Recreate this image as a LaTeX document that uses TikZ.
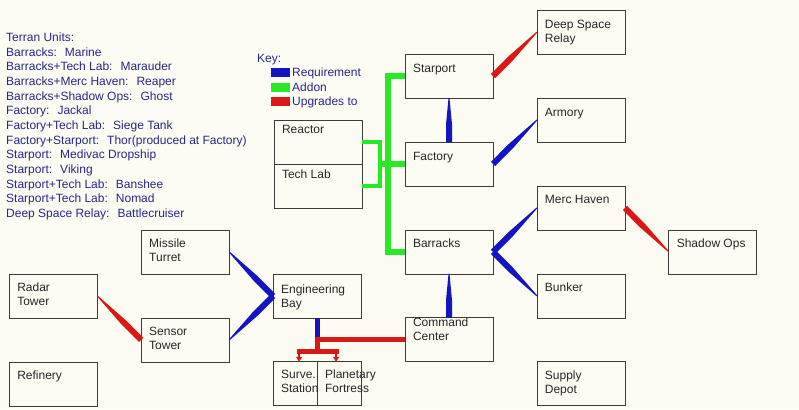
\documentclass[tikz,border=0pt]{standalone}
\usepackage{fontspec}
\setmainfont{Liberation Sans}
\usetikzlibrary{positioning, calc, arrows.meta}

\definecolor{paper}{RGB}{253,252,243}
\definecolor{boxline}{RGB}{60,60,60}
\definecolor{navy}{RGB}{38,38,140}
\definecolor{reqblue}{RGB}{20,20,195}
\definecolor{addgreen}{RGB}{40,232,40}
\definecolor{upgred}{RGB}{218,24,24}

% tapered link: thick at #2, thin at #3
\newcommand{\wedgelink}[3]{%
  \fill[#1] ($(#2)!3pt!90:(#3)$) -- ($(#2)!.4!(#3)!3pt!90:(#3)$)
    -- ($(#3)!.5pt!-90:(#2)$) -- ($(#3)!.5pt!90:(#2)$)
    -- ($(#2)!.4!(#3)!3pt!-90:(#3)$) -- ($(#2)!3pt!-90:(#3)$) -- cycle;}
\newcommand{\unitsep}{:\hspace{8pt}}

\tikzset{boxw/.initial=88pt, firstline/.initial=18pt}

\begin{document}
\begin{tikzpicture}[
        x=1pt, y=-1pt,
        node distance=43.9pt and 43.9pt,
        bld/.style={rectangle, draw=boxline, line width=0.8pt, fill=paper, minimum width=88pt, minimum height=44pt, inner sep=0pt, outer sep=0pt, text=black!85, font=\fontsize{12}{14}\selectfont,
            execute at begin node={\begin{minipage}[c][44pt][t]{\pgfkeysvalueof{/tikz/boxw}}\raggedright\leftskip=8pt\relax\rule{0pt}{\pgfkeysvalueof{/tikz/firstline}}},
            execute at end node={\end{minipage}}},
        half/.style={bld, boxw=44pt, minimum width=44pt},
        notes/.style={anchor=north west, inner sep=0pt, align=left, text=navy, font=\fontsize{12}{14.67}\selectfont},
        keysq/.style={anchor=north west, minimum width=19pt, minimum height=9pt, inner sep=0pt},
        keytxt/.style={anchor=base west, inner sep=0pt, text=navy, font=\fontsize{12}{14}\selectfont},
        addon/.style={draw=addgreen, line width=6pt},
        addonthin/.style={draw=addgreen, line width=4.5pt},
        reqline/.style={draw=reqblue, line width=5pt},
        upgline/.style={draw=upgred, line width=5pt},
        upgtip/.style={draw=upgred, line width=2pt, -{Triangle[width=6pt, length=5pt]}}
    ]
        \fill[paper] (0,0) rectangle (799,409);

        % Unit list
        \node[notes] (units) at (6,32.5) {Terran Units:\\
            Barracks\unitsep Marine\\
            Barracks+Tech Lab\unitsep Marauder\\
            Barracks+Merc Haven\unitsep Reaper\\
            Barracks+Shadow Ops\unitsep Ghost\\
            Factory\unitsep Jackal\\
            Factory+Tech Lab\unitsep Siege Tank\\
            Factory+Starport\unitsep Thor(produced at Factory)\\
            Starport\unitsep Medivac Dropship\\
            Starport\unitsep Viking\\
            Starport+Tech Lab\unitsep Banshee\\
            Starport+Tech Lab\unitsep Nomad\\
            Deep Space Relay\unitsep Battlecruiser};

        % Key
        \node[keytxt] (keylbl) at (257,63) {Key:};
        \node[keysq, fill=reqblue] (keyreq) at (271,68) {};
        \node[keytxt] (keyreqtxt) at (292,77) {Requirement};
        \node[keysq, fill=addgreen] (keyadd) at (271,83) {};
        \node[keytxt] (keyaddtxt) at (292,92) {Addon};
        \node[keysq, fill=upgred] (keyupg) at (271,97) {};
        \node[keytxt] (keyupgtxt) at (292,106) {Upgrades to};

        % Production
        \node[bld, anchor=north west] (factory) at (405,142) {Factory};
        \node[bld, above=of factory] (starport) {Starport};
        \node[bld, below=of factory] (barracks) {Barracks};
        \node[bld, below=of barracks, firstline=9pt] (cc) {Command\\Center};

        % Addons
        \node[bld, anchor=south east, firstline=13pt] (reactor) at ([xshift=-43pt]factory.west) {Reactor};
        \node[bld, anchor=north east, firstline=14pt] (techlab) at ([xshift=-43pt]factory.west) {Tech Lab};

        % Tech buildings
        \node[bld, above right=0pt and 43.9pt of starport] (dsr) {Deep Space\\Relay};
        \node[bld, above right=0pt and 43.9pt of factory] (armory) {Armory};
        \node[bld, above right=0pt and 43.9pt of barracks] (merc) {Merc Haven};
        \node[bld, below right=0pt and 43.9pt of merc] (shadow) {Shadow Ops};
        \node[bld, below right=0pt and 43.9pt of barracks] (bunker) {Bunker};
        \node[bld, below right=0pt and 43.9pt of cc] (depot) {Supply\\Depot};

        % Defence
        \node[bld, below left=0pt and 43.9pt of barracks, firstline=20pt] (engbay) {Engineering\\Bay};
        \node[half, below left=0pt and 43.9pt of cc, firstline=17pt] (fortress) {Planetary\\Fortress};
        \node[half, left=0pt of fortress, firstline=17pt] (surve) {Surve.\\Station};
        \node[bld, above left=0pt and 43.9pt of engbay] (turret) {Missile\\Turret};
        \node[bld, below left=0pt and 43.9pt of engbay] (sensor) {Sensor\\Tower};
        \node[bld, above left=0pt and 43.9pt of sensor] (radar) {Radar\\Tower};
        \node[bld, below left=0pt and 43.9pt of sensor] (refinery) {Refinery};

        % Addon lines
        \coordinate (trunk) at ([xshift=-17pt]factory.west);
        \coordinate (brk) at ([xshift=18pt]reactor.south east);
        \draw[addon] (starport.west) -| (trunk) |- (barracks.west);
        \draw[addon] (brk) -- (factory.west);
        \draw[addonthin] (reactor.east) -| (brk) |- (techlab.east);

        % Requirements
        \wedgelink{reqblue}{factory.north}{starport.south}
        \wedgelink{reqblue}{factory.east}{armory.west}
        \wedgelink{reqblue}{cc.north}{barracks.south}
        \wedgelink{reqblue}{barracks.east}{merc.west}
        \wedgelink{reqblue}{barracks.east}{bunker.west}
        \wedgelink{reqblue}{engbay.west}{turret.east}
        \wedgelink{reqblue}{engbay.west}{sensor.east}

        % Upgrades
        \wedgelink{upgred}{starport.east}{dsr.west}
        \wedgelink{upgred}{merc.east}{shadow.west}
        \wedgelink{upgred}{sensor.west}{radar.east}

        \coordinate (fork) at (engbay.south |- cc.west);
        \draw[reqline] (engbay.south) -- (fork);
        \draw[upgline] (cc.west) -- (fork) -- ++(0,12) coordinate (bar);
        \coordinate (ldrop) at ([xshift=4pt]surve.north);
        \coordinate (rdrop) at ([xshift=-3pt]fortress.north);
        \draw[upgline, line cap=rect] (ldrop |- bar) -- (rdrop |- bar);
        \draw[upgtip] (ldrop |- bar) -- (ldrop);
        \draw[upgtip] (rdrop |- bar) -- (rdrop);

    \end{tikzpicture}
\end{document}
